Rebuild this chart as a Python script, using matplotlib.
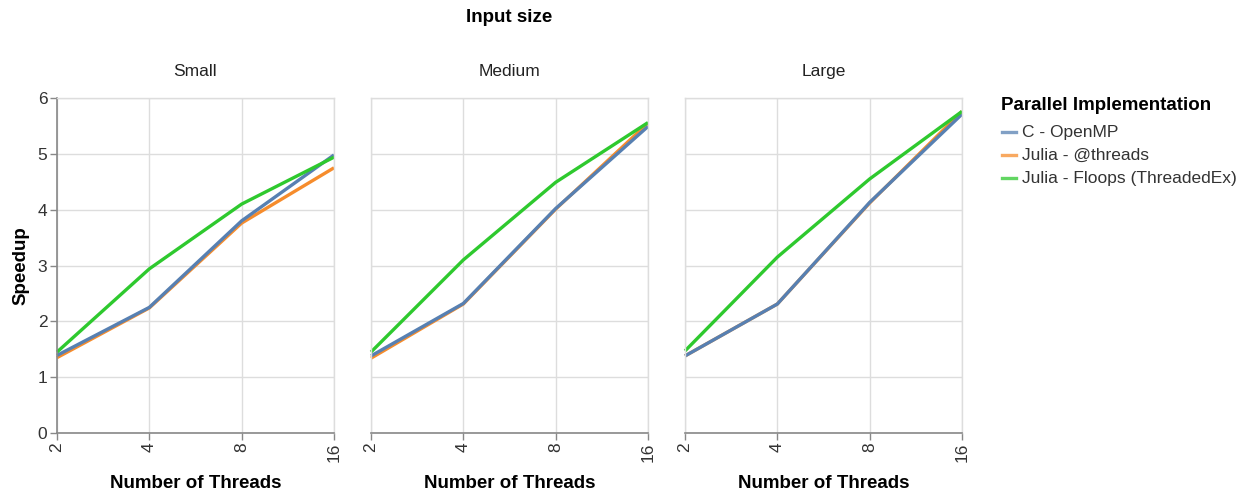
import matplotlib
matplotlib.use("Agg")
import matplotlib.pyplot as plt
from matplotlib.lines import Line2D

plt.rcParams['font.family'] = ['Liberation Sans', 'DejaVu Sans']

threads = [2, 4, 8, 16]
sizes = ["Small", "Medium", "Large"]
implementations = ["C - OpenMP", "Julia - @threads", "Julia - Floops (ThreadedEx)"]
colors = ["#5780b2", "#f68c2c", "#2ec92e"]

# speedup per input size, per implementation, per thread count
speedup_small = [
    [1.39, 2.25, 3.80, 4.98],
    [1.35, 2.24, 3.76, 4.75],
    [1.45, 2.94, 4.10, 4.94],
]
speedup_medium = [
    [1.38, 2.32, 4.02, 5.49],
    [1.34, 2.31, 4.01, 5.55],
    [1.45, 3.10, 4.49, 5.56],
]
speedup_large = [
    [1.38, 2.31, 4.13, 5.71],
    [1.38, 2.31, 4.12, 5.76],
    [1.47, 3.15, 4.55, 5.76],
]
speedups = [speedup_small, speedup_medium, speedup_large]

# drawing order: orange underneath, then blue, green on top
draw_order = [1, 0, 2]

W, H = 1254, 492
fig = plt.figure(figsize=(W / 100, H / 100), dpi=100)

lefts = [57, 371, 685]
pw, top, bottom = 277, 98, 433
axis_gray = "#888888"
grid_gray = "#dddddd"
label_col = "#333333"

for i, (name, data) in enumerate(zip(sizes, speedups)):
    ax = fig.add_axes([lefts[i] / W, 1 - bottom / H, pw / W, (bottom - top) / H])
    ax.set_xscale("log", base=2)
    ax.set_xlim(2, 16)
    ax.set_ylim(0, 6)
    ax.set_xticks(threads)
    ax.set_xticklabels([str(t) for t in threads], rotation=90, fontsize=12.5)
    ax.minorticks_off()
    ax.set_yticks(range(0, 7))
    ax.grid(True, color=grid_gray, linewidth=1)
    ax.set_axisbelow(True)
    for s in ["top", "right"]:
        ax.spines[s].set_color(grid_gray)
        ax.spines[s].set_linewidth(1)
    ax.spines["bottom"].set_color(axis_gray)
    ax.spines["bottom"].set_linewidth(1.2)
    ax.tick_params(axis="both", colors=axis_gray, labelcolor=label_col, length=5, width=1, pad=2)
    if i == 0:
        ax.set_yticklabels([str(v) for v in range(0, 7)], fontsize=12.5)
        ax.set_ylabel("Speedup", fontsize=13.5, fontweight="bold", labelpad=6)
        ax.spines["left"].set_color(axis_gray)
        ax.spines["left"].set_linewidth(1.2)
    else:
        ax.tick_params(axis="y", left=False, labelleft=False)
        ax.spines["left"].set_color(grid_gray)
        ax.spines["left"].set_linewidth(1)
    for k in draw_order:
        ax.plot(threads, data[k], color=colors[k], linewidth=2.4,
                solid_capstyle="butt", clip_on=False)
    ax.set_xlabel("Number of Threads", fontsize=13.5, fontweight="bold", labelpad=9)
    ax.set_title(name, fontsize=12.5, pad=16, color="#222222")

fig.text((57 + 962) / 2 / W, 1 - 18 / H, "Input size", ha="center", va="center",
         fontsize=13.5, fontweight="bold")

# legend, laid out by hand in pixel coordinates
fig.text(1001 / W, 1 - 105 / H, "Parallel Implementation", ha="left", va="center",
         fontsize=13.5, fontweight="bold")
entry_y = [132, 155, 178]
for label, c, y in zip(implementations, colors, entry_y):
    fig.add_artist(Line2D([1002 / W, 1016 / W], [1 - y / H, 1 - y / H],
                          transform=fig.transFigure, color=c, linewidth=2.4, alpha=0.75))
    fig.text(1022 / W, 1 - y / H, label, ha="left", va="center",
             fontsize=12.5, color=label_col)

fig.savefig("out.png", dpi=100)
